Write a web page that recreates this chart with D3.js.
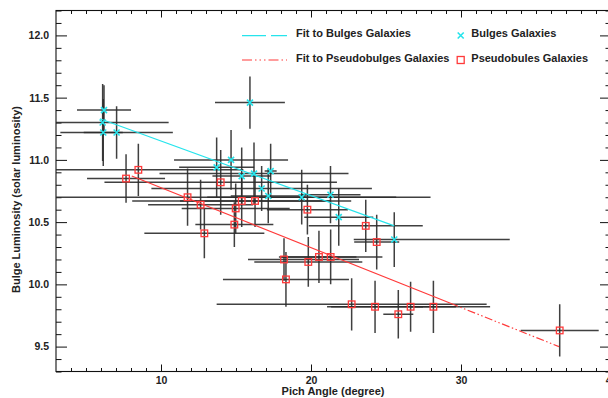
<!DOCTYPE html>
<html>
<head>
<meta charset="utf-8">
<script src="https://cdn.jsdelivr.net/npm/d3@7"></script>
<style>
  html, body { margin: 0; padding: 0; background: #fff; }
  svg { display: block; font-family: "Liberation Sans", Arial, sans-serif; }
</style>
</head>
<body>
<svg id="chart" width="608" height="398"></svg>
<script>
// Pitch angle (degrees) against bulge luminosity (log10 solar luminosity)

// Classical bulges
const bulgeAngle      = [6.20, 6.11, 6.15, 7.04, 15.93, 13.71, 14.67, 15.38, 16.20, 16.71, 17.31, 17.15, 19.38, 21.30, 21.85, 25.55];
const bulgeLum        = [11.40, 11.30, 11.22, 11.22, 11.46, 10.94, 11.00, 10.87, 10.89, 10.77, 10.91, 10.71, 10.70, 10.72, 10.54, 10.36];
const bulgeAngleErrLo = [1.8, 4.4, 1.3, 3.75, 2.33, 2.5, 3.8, 1.95, 6.3, 7.35, 0.4, 2.5, 6.3, 2.0, 2.3, 2.7];
const bulgeAngleErrHi = [1.8, 4.4, 1.3, 3.75, 2.33, 2.5, 3.8, 1.95, 6.3, 7.35, 0.4, 2.5, 6.3, 2.0, 2.3, 7.7];
const bulgeLumErr     = [0.20, 0.31, 0.27, 0.21, 0.21, 0.24, 0.24, 0.23, 0.25, 0.18, 0.22, 0.22, 0.22, 0.23, 0.23, 0.22];

// Pseudobulges
const pseudoAngle      = [7.67, 8.49, 11.77, 12.64, 12.89, 13.98, 14.89, 14.98, 15.38, 16.27, 19.76, 23.65, 24.38, 18.20, 19.82, 20.53, 21.31, 18.33, 22.71, 24.27, 25.82, 26.64, 28.16, 36.58];
const pseudoLum        = [10.85, 10.92, 10.70, 10.64, 10.41, 10.82, 10.48, 10.61, 10.67, 10.67, 10.60, 10.47, 10.34, 10.20, 10.18, 10.22, 10.22, 10.04, 9.84, 9.82, 9.76, 9.82, 9.82, 9.63];
const pseudoAngleErrLo = [2.6, 7.0, 16.2, 3.5, 4.0, 7.75, 2.6, 3.6, 7.3, 5.0, 2.7, 3.8, 1.5, 2.4, 3.6, 2.5, 3.45, 4.2, 9.0, 3.2, 1.0, 5.3, 1.5, 2.6];
const pseudoAngleErrHi = [2.6, 7.0, 16.2, 3.5, 4.0, 7.75, 2.6, 3.6, 7.3, 5.0, 2.7, 3.8, 1.5, 5.0, 3.6, 2.5, 3.45, 4.2, 9.0, 3.2, 1.0, 5.3, 1.5, 2.6];
const pseudoLumErr     = [0.195, 0.21, 0.23, 0.20, 0.20, 0.26, 0.18, 0.20, 0.21, 0.21, 0.20, 0.21, 0.22, 0.17, 0.20, 0.21, 0.22, 0.22, 0.21, 0.21, 0.195, 0.20, 0.21, 0.21];

// Linear fits: [slope, intercept] over the fitted angle range
const bulgeFit       = [-0.04383, 11.590];
const bulgeFitRange  = [5.93, 25.55];
const pseudoFit      = [-0.0481, 11.257];
const pseudoFitRange = [8.05, 36.53];
const pseudoFitSolidEnd = 29.3;   // beyond this the fit is drawn broken

// Axes
const xDomain = [3, 40];
const yDomain = [9.3, 12.2];
const xTicks = [10, 20, 30, 40];
const yTicks = [9.5, 10.0, 10.5, 11.0, 11.5, 12.0];
const xLabel = "Pich Angle (degree)";
const yLabel = "Bulge Luminosity (solar luminosity)";
const legendLabels = ["Fit to Bulges Galaxies", "Fit to Pseudobulges Galaxies", "Bulges Galaxies", "Pseudobules Galaxies"];

// ---------------------------------------------------------------
const CYAN = "#26e4ec";
const RED = "#ff3a3a";
const BAR = "#2b2b2b";

const svg = d3.select("#chart");
const x = d3.scaleLinear().domain(xDomain).range([56, 611]);
const y = d3.scaleLinear().domain(yDomain).range([371.5, 10.5]);

const xMinor = d3.range(xDomain[0] + 1, xDomain[1]).filter(v => v % 10 !== 0);
const yMinor = d3.range(Math.round(yDomain[0] * 10), Math.round(yDomain[1] * 10) + 1)
  .filter(v => v % 5 !== 0).map(v => v / 10);

svg.append("defs").append("clipPath").attr("id", "plotClip")
  .append("rect")
  .attr("x", x(xDomain[0])).attr("y", y(yDomain[1]))
  .attr("width", x(xDomain[1]) - x(xDomain[0]))
  .attr("height", y(yDomain[0]) - y(yDomain[1]));

function styleAxis(g) {
  g.select(".domain").remove();
  g.selectAll(".tick line").attr("stroke", "#111").attr("stroke-width", 1);
  g.selectAll(".tick text")
    .attr("fill", "#222")
    .attr("font-size", "10.5px")
    .attr("font-weight", "bold");
}

// Bottom axis
svg.append("g").attr("transform", `translate(0,${y(yDomain[0])})`)
  .call(d3.axisBottom(x).tickValues(xTicks).tickSize(-7).tickPadding(5).tickFormat(d3.format("d")))
  .call(styleAxis);
svg.append("g").attr("transform", `translate(0,${y(yDomain[0])})`)
  .call(d3.axisBottom(x).tickValues(xMinor).tickSize(-3.5).tickFormat(""))
  .call(styleAxis);
// Top axis
svg.append("g").attr("transform", `translate(0,${y(yDomain[1])})`)
  .call(d3.axisTop(x).tickValues(xTicks).tickSize(-7).tickFormat(""))
  .call(styleAxis);
svg.append("g").attr("transform", `translate(0,${y(yDomain[1])})`)
  .call(d3.axisTop(x).tickValues(xMinor).tickSize(-3.5).tickFormat(""))
  .call(styleAxis);
// Left axis
svg.append("g").attr("transform", `translate(${x(xDomain[0])},0)`)
  .call(d3.axisLeft(y).tickValues(yTicks).tickSize(-11).tickPadding(7).tickFormat(d3.format(".1f")))
  .call(styleAxis);
svg.append("g").attr("transform", `translate(${x(xDomain[0])},0)`)
  .call(d3.axisLeft(y).tickValues(yMinor).tickSize(-5.5).tickFormat(""))
  .call(styleAxis);
// Right axis
svg.append("g").attr("transform", `translate(${x(xDomain[1])},0)`)
  .call(d3.axisRight(y).tickValues(yTicks).tickSize(-11).tickFormat(""))
  .call(styleAxis);
svg.append("g").attr("transform", `translate(${x(xDomain[1])},0)`)
  .call(d3.axisRight(y).tickValues(yMinor).tickSize(-5.5).tickFormat(""))
  .call(styleAxis);

// Frame
svg.append("rect")
  .attr("x", x(xDomain[0])).attr("y", y(yDomain[1]))
  .attr("width", x(xDomain[1]) - x(xDomain[0]))
  .attr("height", y(yDomain[0]) - y(yDomain[1]))
  .attr("fill", "none").attr("stroke", "#111").attr("stroke-width", 1.1);

// Axis titles
svg.append("text")
  .attr("x", 333).attr("y", 394.5)
  .attr("text-anchor", "middle")
  .attr("font-size", "11px").attr("font-weight", "bold").attr("fill", "#222")
  .text(xLabel);
svg.append("text")
  .attr("transform", "translate(19.5,199.5) rotate(-90)")
  .attr("text-anchor", "middle")
  .attr("font-size", "11px").attr("font-weight", "bold").attr("fill", "#222")
  .text(yLabel);

// Build point records
const bulges = bulgeAngle.map((a, i) => ({
  a, l: bulgeLum[i], lo: bulgeAngleErrLo[i], hi: bulgeAngleErrHi[i], e: bulgeLumErr[i]
}));
const pseudos = pseudoAngle.map((a, i) => ({
  a, l: pseudoLum[i], lo: pseudoAngleErrLo[i], hi: pseudoAngleErrHi[i], e: pseudoLumErr[i]
}));

const plot = svg.append("g").attr("clip-path", "url(#plotClip)");

// Error bars
function drawErrors(data) {
  const g = plot.append("g")
    .attr("stroke", BAR).attr("stroke-width", 1.5).attr("stroke-opacity", 0.9);
  g.selectAll(null).data(data).join("line")
    .attr("x1", d => x(d.a - d.lo)).attr("x2", d => x(d.a + d.hi))
    .attr("y1", d => y(d.l)).attr("y2", d => y(d.l));
  g.selectAll(null).data(data).join("line")
    .attr("x1", d => x(d.a)).attr("x2", d => x(d.a))
    .attr("y1", d => y(d.l - d.e)).attr("y2", d => y(d.l + d.e));
}
drawErrors(bulges);
drawErrors(pseudos);

// Fit lines
const fitLine = fit => d3.line().x(d => x(d)).y(d => y(fit[0] * d + fit[1]));
plot.append("path")
  .attr("d", fitLine(bulgeFit)(bulgeFitRange))
  .attr("fill", "none").attr("stroke", CYAN).attr("stroke-width", 1.15);
plot.append("path")
  .attr("d", fitLine(pseudoFit)([pseudoFitRange[0], pseudoFitSolidEnd]))
  .attr("fill", "none").attr("stroke", RED).attr("stroke-width", 1.15);
plot.append("path")
  .attr("d", fitLine(pseudoFit)([pseudoFitSolidEnd, pseudoFitRange[1]]))
  .attr("fill", "none").attr("stroke", RED).attr("stroke-width", 1.15)
  .attr("stroke-dasharray", "8,2.5,1.5,2.5,1.5,2.5");

// Markers
const crossPath = "M-3,-3L3,3M-3,3L3,-3";
plot.append("g").selectAll(null).data(bulges).join("path")
  .attr("transform", d => `translate(${x(d.a)},${y(d.l)})`)
  .attr("d", crossPath)
  .attr("stroke", CYAN).attr("stroke-width", 1.6).attr("fill", "none");
plot.append("g").selectAll(null).data(pseudos).join("rect")
  .attr("x", d => x(d.a) - 3.3).attr("y", d => y(d.l) - 3.3)
  .attr("width", 6.6).attr("height", 6.6)
  .attr("fill", "none").attr("stroke", RED).attr("stroke-width", 1.3);

// Legend
const legend = svg.append("g").attr("font-size", "11px").attr("font-weight", "bold").attr("fill", "#222");
legend.append("line").attr("x1", 242).attr("x2", 287).attr("y1", 35.7).attr("y2", 35.7)
  .attr("stroke", CYAN).attr("stroke-width", 1.3).attr("stroke-dasharray", "24,5");
legend.append("line").attr("x1", 242).attr("x2", 287).attr("y1", 60).attr("y2", 60)
  .attr("stroke", RED).attr("stroke-width", 1.2).attr("stroke-dasharray", "10,3,1.5,3,1.5,3,1.5,3");
legend.append("text").attr("x", 296).attr("y", 36.8).text(legendLabels[0]);
legend.append("text").attr("x", 296).attr("y", 61.8).text(legendLabels[1]);
legend.append("path").attr("transform", "translate(460.7,35.5)").attr("d", crossPath)
  .attr("stroke", CYAN).attr("stroke-width", 1.6).attr("fill", "none");
legend.append("rect").attr("x", 457.2).attr("y", 56.5).attr("width", 7).attr("height", 7)
  .attr("fill", "none").attr("stroke", RED).attr("stroke-width", 1.3);
legend.append("text").attr("x", 471.3).attr("y", 36.8).text(legendLabels[2]);
legend.append("text").attr("x", 471.3).attr("y", 61.8).text(legendLabels[3]);
</script>
</body>
</html>
